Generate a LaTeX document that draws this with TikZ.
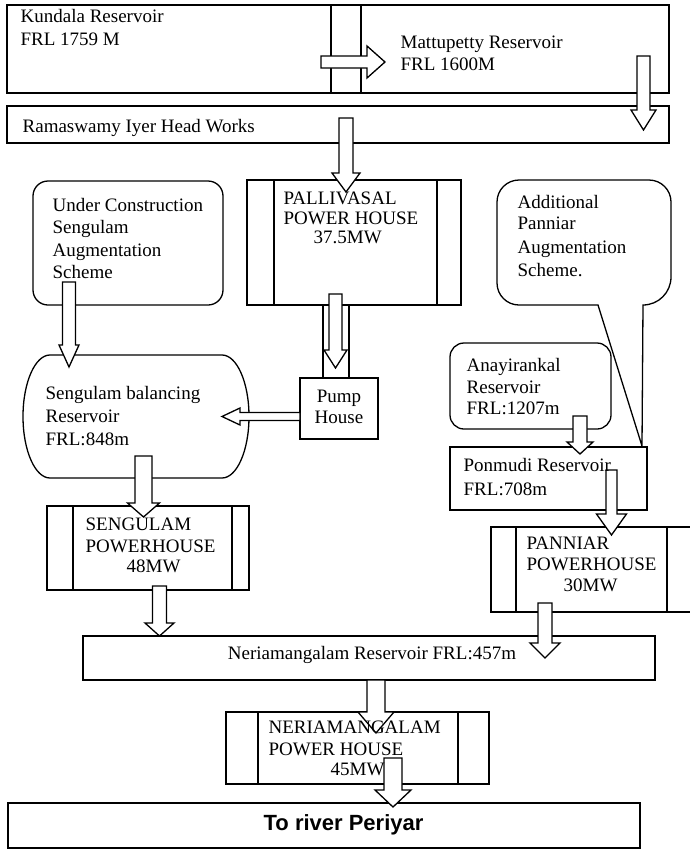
\documentclass[tikz,border=0pt]{standalone}
\usepackage{fontspec}
\setmainfont{Liberation Serif}
\newfontfamily\sansbold{Liberation Sans}
\newcommand\darrow[6]{% cx, top, headstart, tip, shaft half, head half
  \draw[arr] ({#1-#5},#2) -- ({#1+#5},#2) -- ({#1+#5},#3) -- ({#1+#6},#3) -- (#1,#4)
    -- ({#1-#6},#3) -- ({#1-#5},#3) -- cycle;}
\begin{document}
\begin{tikzpicture}[x=1pt,y=-1pt,line width=1.3pt,
  box/.style={draw,fill=white},
  arr/.style={draw,fill=white,line join=miter},
  txt/.style={anchor=base west,inner sep=0pt,font=\fontsize{19}{22}\selectfont},
  ctxt/.style={anchor=base,inner sep=0pt,font=\fontsize{19}{22}\selectfont}]
\useasboundingbox[fill=white] (0,0) rectangle (689,852);

% ---------- boxes ----------
\draw[box] (7,5) rectangle (669,93);
\draw (331,5) -- (331,93) (361,5) -- (361,93);
\draw[box] (7,106) rectangle (669,143);
\draw[box,rounded corners=15pt] (33,181) rectangle (223,305);
\draw[box] (247,180) rectangle (461,305);
\draw (274,180) -- (274,305) (437,180) -- (437,305);
\draw[box] (598,305) -- (519,305) arc[start angle=270,end angle=180,radius=22pt]
  -- (497,202) arc[start angle=180,end angle=90,radius=22pt]
  -- (649,180) arc[start angle=90,end angle=0,radius=22pt]
  -- (671,277) arc[start angle=0,end angle=-90,radius=28pt]
  -- (642,446) -- cycle;
\draw (323,305) -- (323,378) (349,305) -- (349,378);
\draw[box] (300,378) rectangle (378,439);
\draw[box] (50,355) -- (222,355) arc[start angle=90,end angle=-90,x radius=27pt,y radius=61.5pt]
  -- (50,478) arc[start angle=270,end angle=90,x radius=27pt,y radius=61.5pt] -- cycle;
\draw[box,rounded corners=14pt] (450,343) rectangle (611,429);
\draw[box] (450,447) rectangle (647,510);
\draw[box] (491,527) rectangle (700,612);
\draw (516,527) -- (516,612) (667,527) -- (667,612);
\draw[box] (47,506) rectangle (249,590);
\draw (73,506) -- (73,590) (232,506) -- (232,590);
\draw[box] (83,636) rectangle (655,680);
\draw[box] (226,712) rectangle (489,784);
\draw (258,712) -- (258,784) (458,712) -- (458,784);
\draw[box] (8,803) rectangle (640,848);

% ---------- block arrows ----------
\draw[arr] (321,56) -- (367,56) -- (367,46) -- (385,62) -- (367,78) -- (367,68) -- (321,68) -- cycle;
\darrow{643.5}{56}{110}{130}{6.5}{12.5}
\darrow{346}{118}{173}{192}{7}{14}
\darrow{69}{282}{345}{367}{6.5}{10}
\darrow{335.5}{294}{350}{368}{6.5}{11.5}
\draw[arr] (300,412.5) -- (240,412.5) -- (240,408) -- (222,416.5) -- (240,425) -- (240,420.5) -- (300,420.5) -- cycle;
\darrow{143.5}{456}{503}{517}{8.5}{16}
\darrow{580}{416}{442}{454}{7}{13}
\darrow{611.5}{470}{514}{535}{5.5}{15}
\darrow{159.5}{586}{623}{636}{7}{14.5}
\darrow{545}{603}{643}{658}{7}{15}
\darrow{376}{680}{712}{733}{9}{18}
\darrow{393}{758}{790}{807}{9}{18}

% ---------- texts ----------
\node[txt] (kun1) at (20,22) {Kundala Reservoir};
\node[txt] (kun2) at (20,45) {FRL 1759 M};
\node[txt] (mat1) at (400,48) {Mattupetty Reservoir};
\node[txt] (mat2) at (400,70) {FRL 1600M};
\node[txt] (ram) at (22,132) {Ramaswamy Iyer Head Works};
\node[txt] (uc1) at (52,211) {Under Construction};
\node[txt] (uc2) at (52,233) {Sengulam};
\node[txt] (uc3) at (52,256) {Augmentation};
\node[txt] (uc4) at (52,278) {Scheme};
\node[txt] (pal1) at (283,204) {PALLIVASAL};
\node[txt] (pal2) at (283,224) {POWER HOUSE};
\node[txt] (pal3) at (313,243) {37.5MW};
\node[txt] (ad1) at (517,208) {Additional};
\node[txt] (ad2) at (517,229) {Panniar};
\node[txt] (ad3) at (517,253) {Augmentation};
\node[txt] (ad4) at (517,276) {Scheme.};
\node[ctxt] (pump1) at (339,402) {Pump};
\node[ctxt] (pump2) at (339,423) {House};
\node[txt] (sb1) at (45,399) {Sengulam balancing};
\node[txt] (sb2) at (45,422) {Reservoir};
\node[txt] (sb3) at (45,445) {FRL:848m};
\node[txt] (an1) at (466,371) {Anayirankal};
\node[txt] (an2) at (466,393) {Reservoir};
\node[txt] (an3) at (466,414) {FRL:1207m};
\node[txt] (pon1) at (463,471) {Ponmudi Reservoir};
\node[txt] (pon2) at (463,495) {FRL:708m};
\node[txt] (pan1) at (526,549) {PANNIAR};
\node[txt] (pan2) at (526,570) {POWERHOUSE};
\node[txt] (pan3) at (563,591) {30MW};
\node[txt] (sph1) at (85,530) {SENGULAM};
\node[txt] (sph2) at (85,552) {POWERHOUSE};
\node[txt] (sph3) at (126,572) {48MW};
\node[ctxt] (ner) at (372,659) {Neriamangalam Reservoir FRL:457m};
\node[txt] (nph1) at (268,733) {NERIAMANGALAM};
\node[txt] (nph2) at (268,755) {POWER HOUSE};
\node[txt] (nph3) at (330,775) {45MW};
\node[anchor=base west,inner sep=0pt,font=\sansbold\bfseries\fontsize{22}{25}\selectfont] (riv) at (263,830) {To river Periyar};
\end{tikzpicture}
\end{document}
